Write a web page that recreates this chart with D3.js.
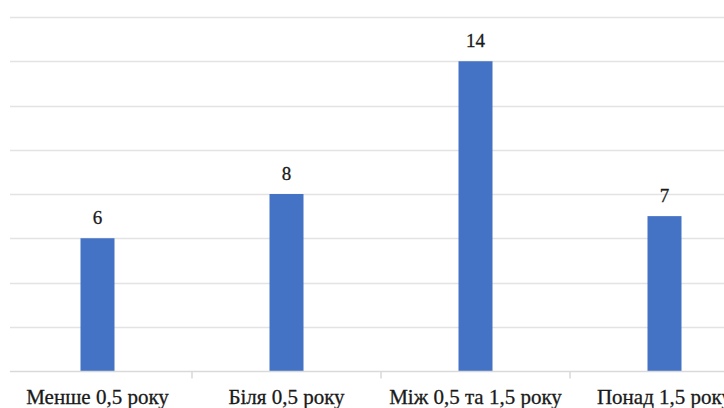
<!DOCTYPE html>
<html>
<head>
<meta charset="utf-8">
<script src="https://cdn.jsdelivr.net/npm/d3@7"></script>
</head>
<body style="margin:0">
<script>
// Category labels and counts
const categories = ["Менше 0,5 року", "Біля 0,5 року", "Між 0,5 та 1,5 року", "Понад 1,5 року"];
const values = [6, 8, 14, 7];
const gridTicks = [0, 2, 4, 6, 8, 10, 12, 14, 16];

const W = 724, H = 408;
const svg = d3.select("body").append("svg").attr("width", W).attr("height", H)
  .style("display", "block");

const x = d3.scaleBand().domain(categories).range([3, 759]).paddingInner(0).paddingOuter(0);
const y = d3.scaleLinear().domain([0, 16]).range([371, 17]);
const barW = 34;

// horizontal gridlines
svg.append("g").selectAll("line").data(gridTicks.slice(1)).join("line")
  .attr("x1", 10).attr("x2", W)
  .attr("y1", d => Math.round(y(d)) + 0.5).attr("y2", d => Math.round(y(d)) + 0.5)
  .attr("stroke", "#e3e3e3").attr("stroke-width", 1.5);

// bars
svg.append("g").selectAll("rect").data(values).join("rect")
  .attr("x", (d, i) => x(categories[i]) + x.bandwidth() / 2 - barW / 2)
  .attr("width", barW)
  .attr("y", d => y(d))
  .attr("height", d => y(0) - y(d))
  .attr("fill", "#4472c4");

// category axis: baseline and separator ticks between bands
const y0 = Math.round(y(0)) + 0.5;
svg.append("line").attr("x1", 10).attr("x2", W).attr("y1", y0).attr("y2", y0)
  .attr("stroke", "#d9d9d9").attr("stroke-width", 1.5);
svg.append("g").selectAll("line").data(x.domain().slice(1)).join("line")
  .attr("x1", d => x(d)).attr("x2", d => x(d))
  .attr("y1", y0).attr("y2", y0 + 7)
  .attr("stroke", "#d9d9d9").attr("stroke-width", 1.5);

// category labels
svg.selectAll("text.cat").data(categories).join("text")
  .attr("class", "cat")
  .attr("x", d => x(d) + x.bandwidth() / 2)
  .attr("y", y0 + 32)
  .attr("text-anchor", "middle")
  .attr("font-size", 21)
  .attr("fill", "#1a1a1a")
  .attr("stroke", "#1a1a1a").attr("stroke-width", 0.3)
  .style("font-family", `"Times New Roman"`)
  .text(d => d);

// value labels above bars
svg.selectAll("text.val").data(values).join("text")
  .attr("class", "val")
  .attr("x", (d, i) => x(categories[i]) + x.bandwidth() / 2)
  .attr("y", d => y(d) - 14)
  .attr("text-anchor", "middle")
  .attr("font-size", 19)
  .attr("fill", "#1a1a1a")
  .attr("stroke", "#1a1a1a").attr("stroke-width", 0.3)
  .style("font-family", `"Times New Roman"`)
  .text(d => d);
</script>
</body>
</html>
